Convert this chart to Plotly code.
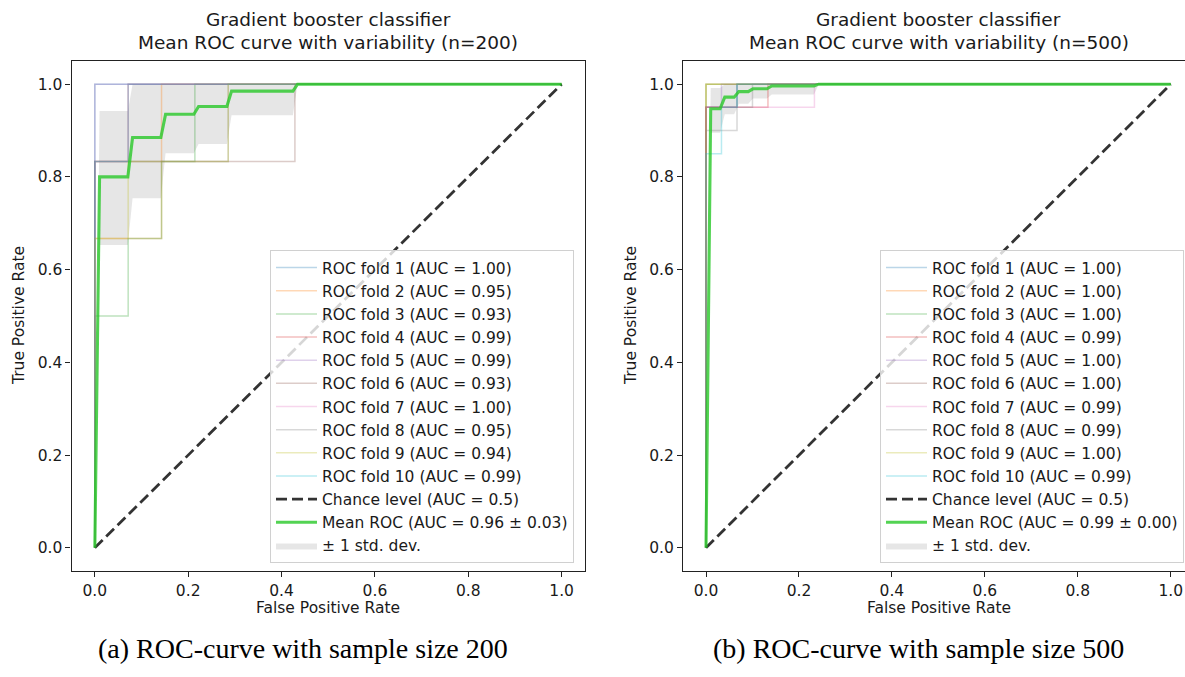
import plotly.graph_objects as go

W, H = 1185, 677

fold_colors = ["#1f77b4", "#ff7f0e", "#2ca02c", "#d62728", "#9467bd",
               "#8c564b", "#e377c2", "#7f7f7f", "#bcbd22", "#17becf"]

# ---------------- (a) n = 200 ----------------
a_auc = ["1.00", "0.95", "0.93", "0.99", "0.99", "0.93", "1.00", "0.95", "0.94", "0.99"]
a_fold_fpr = [
    [0, 0, 1],
    [0, 0, 0.1429, 0.1429, 1],
    [0, 0, 0.0714, 0.0714, 0.1429, 0.1429, 0.2143, 0.2143, 1],
    [0, 0, 0.0714, 0.0714, 1],
    [0, 0, 1],
    [0, 0, 0.4286, 0.4286, 1],
    [0, 0, 0.0714, 0.0714, 1],
    [0, 0, 0.2857, 0.2857, 1],
    [0, 0, 0.0714, 0.0714, 0.2857, 0.2857, 1],
    [0, 0, 0.0714, 0.0714, 1],
]
a_fold_tpr = [
    [0, 1, 1],
    [0, 0.667, 0.667, 1, 1],
    [0, 0.5, 0.5, 0.667, 0.667, 0.833, 0.833, 1, 1],
    [0, 0.833, 0.833, 1, 1],
    [0, 1, 1],
    [0, 0.833, 0.833, 1, 1],
    [0, 0.833, 0.833, 1, 1],
    [0, 0.833, 0.833, 1, 1],
    [0, 0.667, 0.667, 0.833, 0.833, 1, 1],
    [0, 0.833, 0.833, 1, 1],
]
a_mean_fpr = [0, 0.0101, 0.0707, 0.0808, 0.1414, 0.1515, 0.2121, 0.2222, 0.2828, 0.2929, 0.4242, 0.4343, 1]
a_mean_tpr = [0, 0.80, 0.80, 0.885, 0.885, 0.935, 0.935, 0.952, 0.952, 0.985, 0.985, 1, 1]
a_upper = [0, 0.942, 0.942, 1, 1, 1, 1, 1, 1, 1, 1, 1, 1]
a_lower = [0, 0.653, 0.653, 0.754, 0.754, 0.851, 0.851, 0.871, 0.871, 0.933, 0.933, 1, 1]
a_mean_label = "Mean ROC (AUC = 0.96 ± 0.03)"

# ---------------- (b) n = 500 ----------------
b_auc = ["1.00", "1.00", "1.00", "0.99", "1.00", "1.00", "0.99", "0.99", "1.00", "0.99"]
b_fold_fpr = [
    [0, 0, 0.0667, 0.0667, 1],
    [0, 0, 1],
    [0, 0, 1],
    [0, 0, 0.1333, 0.1333, 1],
    [0, 0, 0.0333, 0.0333, 1],
    [0, 0, 0.0667, 0.0667, 1],
    [0, 0, 0.2333, 0.2333, 1],
    [0, 0, 0.0667, 0.0667, 0.1, 0.1, 1],
    [0, 0, 1],
    [0, 0, 0.0333, 0.0333, 0.0667, 0.0667, 1],
]
b_fold_tpr = [
    [0, 0.95, 0.95, 1, 1],
    [0, 1, 1],
    [0, 1, 1],
    [0, 0.95, 0.95, 1, 1],
    [0, 0.95, 0.95, 1, 1],
    [0, 0.95, 0.95, 1, 1],
    [0, 0.95, 0.95, 1, 1],
    [0, 0.9, 0.9, 0.95, 0.95, 1, 1],
    [0, 1, 1],
    [0, 0.85, 0.85, 0.95, 0.95, 1, 1],
]
b_mean_fpr = [0, 0.0101, 0.0303, 0.0404, 0.0606, 0.0707, 0.0909, 0.1010, 0.1313, 0.1414, 0.2323, 0.2424, 1]
b_mean_tpr = [0, 0.947, 0.947, 0.972, 0.972, 0.984, 0.984, 0.990, 0.990, 0.996, 0.996, 1, 1]
b_upper = [0, 0.992, 0.992, 1, 1, 1, 1, 1, 1, 1, 1, 1, 1]
b_lower = [0, 0.895, 0.895, 0.935, 0.935, 0.958, 0.958, 0.969, 0.969, 0.978, 0.978, 1, 1]
b_mean_label = "Mean ROC (AUC = 0.99 ± 0.00)"

chance_x = [0, 1]
chance_y = [0, 1]

titles = [("Gradient booster classifier", "Mean ROC curve with variability (n=200)"),
          ("Gradient booster classifier", "Mean ROC curve with variability (n=500)")]
captions = ["(a) ROC-curve with sample size 200", "(b) ROC-curve with sample size 500"]
tick_vals = [0.0, 0.2, 0.4, 0.6, 0.8, 1.0]
tick_text = ["0.0", "0.2", "0.4", "0.6", "0.8", "1.0"]

FONT = "DejaVu Sans"
TXT = "#1a1a1a"


def rgba(hexc, a):
    h = hexc.lstrip("#")
    return "rgba(%d,%d,%d,%.2f)" % (int(h[0:2], 16), int(h[2:4], 16), int(h[4:6], 16), a)


fig = go.Figure()

panels = [
    dict(xa="x", ya="y", leg="legend", auc=a_auc, ffpr=a_fold_fpr, ftpr=a_fold_tpr,
         mf=a_mean_fpr, mt=a_mean_tpr, up=a_upper, lo=a_lower, ml=a_mean_label),
    dict(xa="x2", ya="y2", leg="legend2", auc=b_auc, ffpr=b_fold_fpr, ftpr=b_fold_tpr,
         mf=b_mean_fpr, mt=b_mean_tpr, up=b_upper, lo=b_lower, ml=b_mean_label),
]

for p in panels:
    fig.add_trace(go.Scatter(
        x=p["mf"] + p["mf"][::-1], y=p["up"] + p["lo"][::-1],
        fill="toself", fillcolor="rgba(128,128,128,0.2)", line=dict(width=0),
        mode="lines", name="± 1 std. dev.", xaxis=p["xa"], yaxis=p["ya"],
        legend=p["leg"], legendrank=1013, hoverinfo="skip"))
    for i in range(10):
        fig.add_trace(go.Scatter(
            x=p["ffpr"][i], y=p["ftpr"][i], mode="lines",
            line=dict(color=rgba(fold_colors[i], 0.3), width=1.5),
            name="ROC fold %d (AUC = %s)" % (i + 1, p["auc"][i]),
            xaxis=p["xa"], yaxis=p["ya"], legend=p["leg"], legendrank=1000 + i))
    fig.add_trace(go.Scatter(
        x=chance_x, y=chance_y, mode="lines",
        line=dict(color="rgba(0,0,0,0.8)", width=2.8, dash="11px,5px"),
        name="Chance level (AUC = 0.5)", xaxis=p["xa"], yaxis=p["ya"],
        legend=p["leg"], legendrank=1010))
    fig.add_trace(go.Scatter(
        x=p["mf"], y=p["mt"], mode="lines",
        line=dict(color="rgba(40,200,40,0.8)", width=3.1),
        name=p["ml"], xaxis=p["xa"], yaxis=p["ya"],
        legend=p["leg"], legendrank=1011))

L_AX = (71.5, 585.0)
R_AX = (683.0, 1185.0)
TOP, BOT = 61.0, 571.0

axis_common = dict(showgrid=False, zeroline=False, showline=True, linecolor="#222",
                   linewidth=1.2, ticks="outside", ticklen=5, tickwidth=1.2, tickcolor="#222",
                   tickvals=tick_vals, ticktext=tick_text,
                   tickfont=dict(family=FONT, size=15.5, color=TXT))

fig.update_layout(
    width=W, height=H, margin=dict(l=0, r=0, t=0, b=0),
    paper_bgcolor="white", plot_bgcolor="white",
    xaxis=dict(domain=[L_AX[0] / W, L_AX[1] / W], range=[-0.05, 1.05], mirror=True,
               anchor="y", **axis_common),
    yaxis=dict(domain=[1 - BOT / H, 1 - TOP / H], range=[-0.05, 1.05], mirror=True,
               anchor="x", **axis_common),
    xaxis2=dict(domain=[R_AX[0] / W, 1.0], range=[-0.0495, 1.0306], mirror=True,
                anchor="y2", **axis_common),
    yaxis2=dict(domain=[1 - BOT / H, 1 - TOP / H], range=[-0.05, 1.05], mirror=False,
                anchor="x2", **axis_common),
    showlegend=True,
)

leg_common = dict(bgcolor="rgba(255,255,255,0.8)", bordercolor="#d0d0d0", borderwidth=1,
                  font=dict(family=FONT, size=15.5, color=TXT), xref="paper", yref="paper",
                  xanchor="right", yanchor="bottom", tracegroupgap=0, itemwidth=41,
                  traceorder="normal")
fig.update_layout(
    legend=dict(x=574 / W, y=1 - 563 / H, **leg_common),
    legend2=dict(x=1184 / W, y=1 - 563 / H, **leg_common),
)

ann = []
centers = [(L_AX[0] + 585.0) / 2, (683.0 + 1194.0) / 2]
for c, (t1, t2) in zip(centers, titles):
    ann.append(dict(x=c / W, y=1 - 20 / H, xref="paper", yref="paper", text=t1, showarrow=False,
                    xanchor="center", yanchor="middle", font=dict(family=FONT, size=18.5, color=TXT)))
    ann.append(dict(x=c / W, y=1 - 42 / H, xref="paper", yref="paper", text=t2, showarrow=False,
                    xanchor="center", yanchor="middle", font=dict(family=FONT, size=18.5, color=TXT)))
    ann.append(dict(x=c / W, y=1 - 608 / H, xref="paper", yref="paper", text="False Positive Rate",
                    showarrow=False, xanchor="center", yanchor="middle",
                    font=dict(family=FONT, size=15.5, color=TXT)))
for xc in [19, 631]:
    ann.append(dict(x=xc / W, y=1 - 316 / H, xref="paper", yref="paper", text="True Positive Rate",
                    showarrow=False, textangle=-90, xanchor="center", yanchor="middle",
                    font=dict(family=FONT, size=15.5, color=TXT)))
for c, cap in zip([303, 918], captions):
    ann.append(dict(x=c / W, y=1 - 648 / H, xref="paper", yref="paper", text=cap, showarrow=False,
                    xanchor="center", yanchor="middle",
                    font=dict(family="Liberation Serif", size=28, color="#000")))
fig.update_layout(annotations=ann)

fig.write_html("out.html")
